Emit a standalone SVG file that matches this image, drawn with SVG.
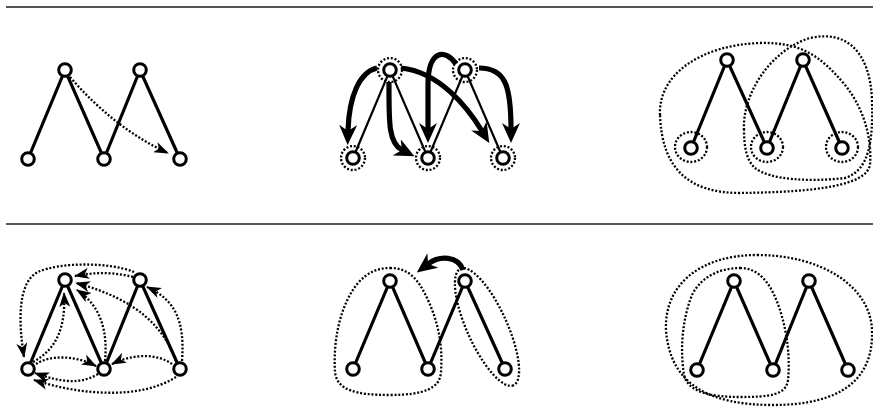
<svg xmlns="http://www.w3.org/2000/svg" width="873" height="417" viewBox="0 0 873 417">
<style>
.rule{stroke:#555;stroke-width:2;fill:none}
.edge{stroke:#000;stroke-width:3.2;fill:none;stroke-linecap:round}
.edge2{stroke:#000;stroke-width:2.2;fill:none;stroke-linecap:round}
.node{fill:#fff;stroke:#000;stroke-width:3}
.dot{fill:none;stroke:#000;stroke-width:2.3;stroke-dasharray:2 1.8}
.darr{fill:none;stroke:#000;stroke-width:2.3;stroke-dasharray:2 1.8;marker-end:url(#sm)}
.tarr{fill:none;stroke:#000;stroke-width:5.2;marker-end:url(#big)}
</style>
<defs>
<marker id="sm" viewBox="0 0 15 11" markerWidth="15" markerHeight="11" refX="14" refY="5.5" orient="auto" markerUnits="userSpaceOnUse">
<path d="M0,0 L15,5.5 L0,11 L4,5.5 Z" fill="#000"/>
</marker>
<marker id="big" viewBox="0 0 20 18" markerWidth="20" markerHeight="18" refX="6" refY="9" orient="auto" markerUnits="userSpaceOnUse">
<path d="M0,0 L20,9 L0,18 L6,9 Z" fill="#000"/>
</marker>
</defs>
<line class="rule" x1="6" y1="7" x2="873" y2="7"/>
<line class="rule" x1="6" y1="224" x2="873" y2="224"/>

<!-- Panel 1 -->
<g id="p1">
<polyline class="edge" points="28,159 65,70 104,159 140,70 180,159"/>
<g id="connectors-p1"><path class="darr" d="M70,77 Q115,129 168,153"/></g>
<circle class="node" cx="28" cy="159" r="6.3"/>
<circle class="node" cx="65" cy="70" r="6.3"/>
<circle class="node" cx="104" cy="159" r="6.3"/>
<circle class="node" cx="140" cy="70" r="6.3"/>
<circle class="node" cx="180" cy="159" r="6.3"/>
</g>

<!-- Panel 2 -->
<g id="p2">
<circle class="dot" cx="353" cy="158" r="12"/>
<circle class="dot" cx="390" cy="70" r="12"/>
<circle class="dot" cx="428" cy="158" r="12"/>
<circle class="dot" cx="465" cy="70" r="12"/>
<circle class="dot" cx="503" cy="158" r="12"/>
<polyline class="edge2" points="353,158 390,70 428,158 465,70 503,158"/>
<g id="connectors-p2">
<path class="tarr" d="M377,68 C360,72 349,95 348,131"/>
<path class="tarr" d="M389,82 C389,120 388,143 402,150"/>
<path class="tarr" d="M401,68 C440,72 468,108 482,131"/>
<path class="tarr" d="M456,64 C445,48 428,50 428,85 L428,129"/>
<path class="tarr" d="M479,68 C505,68 511,85 511,129"/>
</g>
<circle class="node" cx="353" cy="158" r="6.3"/>
<circle class="node" cx="390" cy="70" r="6.3"/>
<circle class="node" cx="428" cy="158" r="6.3"/>
<circle class="node" cx="465" cy="70" r="6.3"/>
<circle class="node" cx="503" cy="158" r="6.3"/>
</g>

<!-- Panel 3 -->
<g id="p3">
<path class="dot" d="M660,115 C658,75 700,45 760,43 C800,42 820,55 845,85 C865,110 872,140 870,165 C866,185 820,192 740,193 C690,193 662,170 660,115 Z"/>
<path class="dot" d="M744,130 C742,95 770,50 810,38 C845,30 870,50 872,100 C873,140 870,170 845,178 C810,182 770,180 755,168 C746,160 744,145 744,130 Z"/>
<ellipse class="dot" cx="691" cy="147" rx="16" ry="15"/>
<ellipse class="dot" cx="767" cy="147" rx="16" ry="15"/>
<ellipse class="dot" cx="842" cy="147" rx="16" ry="15"/>
<polyline class="edge" points="691,148 727,60 767,148 803,60 842,148"/>
<circle class="node" cx="691" cy="148" r="6.3"/>
<circle class="node" cx="727" cy="60" r="6.3"/>
<circle class="node" cx="767" cy="148" r="6.3"/>
<circle class="node" cx="803" cy="60" r="6.3"/>
<circle class="node" cx="842" cy="148" r="6.3"/>
</g>

<!-- Panel 4 -->
<g id="p4">
<polyline class="edge" points="28,369 65,280 104,369 140,280 180,369"/>
<g id="connectors-p4">
<path class="darr" d="M134,272 C110,262 60,262 38,272 C18,282 18,320 24,357"/>
<path class="darr" d="M133,277 C115,272 95,272 75,276"/>
<path class="darr" d="M176,361 C165,330 140,300 76,283"/>
<path class="darr" d="M105,361 C108,330 100,305 77,290"/>
<path class="darr" d="M33,362 C55,350 66,330 64,293"/>
<path class="darr" d="M36,364 C50,355 75,355 96,366"/>
<path class="darr" d="M172,364 C155,352 130,355 112,364"/>
<path class="darr" d="M98,374 C80,385 60,382 35,373"/>
<path class="darr" d="M176,377 C140,400 80,395 34,380"/>
<path class="darr" d="M182,361 C185,320 175,300 147,287"/>
</g>
<circle class="node" cx="28" cy="369" r="6.3"/>
<circle class="node" cx="65" cy="280" r="6.3"/>
<circle class="node" cx="104" cy="369" r="6.3"/>
<circle class="node" cx="140" cy="280" r="6.3"/>
<circle class="node" cx="180" cy="369" r="6.3"/>
</g>

<!-- Panel 5 -->
<g id="p5">
<path class="dot" d="M390,268 C408,268 418,278 428,300 C438,322 443,345 441,372 C440,388 425,395 390,395 C355,395 337,390 335,372 C333,340 340,305 358,283 C368,272 378,268 390,268 Z"/>
<ellipse class="dot" cx="487" cy="327" rx="64" ry="20" transform="rotate(65.6 487 327)"/>
<polyline class="edge" points="353,369 390,281 428,369 465,281 505,369"/>
<g id="connectors-p5"><path class="tarr" d="M463,270 C458,256 440,255 428,264"/></g>
<circle class="node" cx="353" cy="369" r="6.3"/>
<circle class="node" cx="390" cy="281" r="6.3"/>
<circle class="node" cx="428" cy="369" r="6.3"/>
<circle class="node" cx="465" cy="281" r="6.3"/>
<circle class="node" cx="505" cy="369" r="6.3"/>
</g>

<!-- Panel 6 -->
<g id="p6">
<path class="dot" d="M757,255 C820,255 870,285 872,330 C874,380 840,405 773,405 C710,405 670,385 666,330 C664,285 700,255 757,255 Z"/>
<path class="dot" d="M740,268 C760,268 772,285 780,310 C788,335 790,360 788,380 C786,395 770,397 740,397 C710,397 688,392 684,375 C680,350 682,320 692,295 C702,275 722,268 740,268 Z"/>
<polyline class="edge" points="697,370 734,281 773,370 809,281 848,370"/>
<circle class="node" cx="697" cy="370" r="6.3"/>
<circle class="node" cx="734" cy="281" r="6.3"/>
<circle class="node" cx="773" cy="370" r="6.3"/>
<circle class="node" cx="809" cy="281" r="6.3"/>
<circle class="node" cx="848" cy="370" r="6.3"/>
</g>
</svg>
